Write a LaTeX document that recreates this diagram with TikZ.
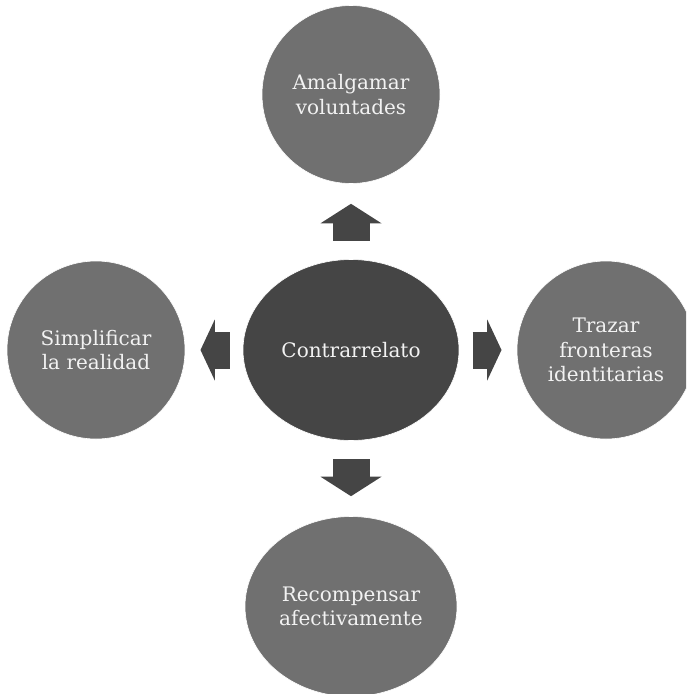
\documentclass[tikz,border=0pt]{standalone}
\usepackage{fontspec}
\setmainfont{DejaVu Serif}
\usepackage{xcolor}
\usetikzlibrary{positioning, arrows.meta, shapes.geometric}

\definecolor{grisclaro}{HTML}{707070}
\definecolor{grisoscuro}{HTML}{454545}

\begin{document}
\begin{tikzpicture}[
    x=1pt, y=-1pt,
    node distance=76pt and 58pt,
    every node/.style={draw=white, line width=0.6pt, text=white!95!black, align=center, font=\fontsize{20}{24.3}\selectfont, inner sep=0pt, outer sep=0pt},
    idea/.style={circle, fill=grisclaro, minimum size=178pt},
    flecha/.style={draw=grisoscuro, line width=37pt, -{Triangle[width=61pt, length=#1, line width=0pt]}},
    vflecha/.style={flecha=19.5pt, shorten <=18.7pt, shorten >=20.3pt},
    hflecha/.style={flecha=14.3pt, shorten <=13.5pt, shorten >=15.5pt}
]
\clip (0,0) rectangle (686,694);

\node[ellipse, fill=grisoscuro, minimum width=216pt, minimum height=181pt] (centro) at (351,350) {Contrarrelato};
\node[idea, above=of centro] (amalgamar) {Amalgamar\\voluntades};
\node[idea, left=of centro] (simplificar) {Simplificar\\la realidad};
\node[idea, right=of centro] (trazar) {Trazar\\fronteras\\identitarias};
\node[idea, ellipse, minimum width=212pt, minimum height=180pt, below=of centro] (recompensar) {Recompensar\\afectivamente};

\draw[vflecha] (centro) -- (amalgamar);
\draw[vflecha] (centro) -- (recompensar);
\draw[hflecha] (centro) -- (simplificar);
\draw[hflecha] (centro) -- (trazar);
\end{tikzpicture}
\end{document}
